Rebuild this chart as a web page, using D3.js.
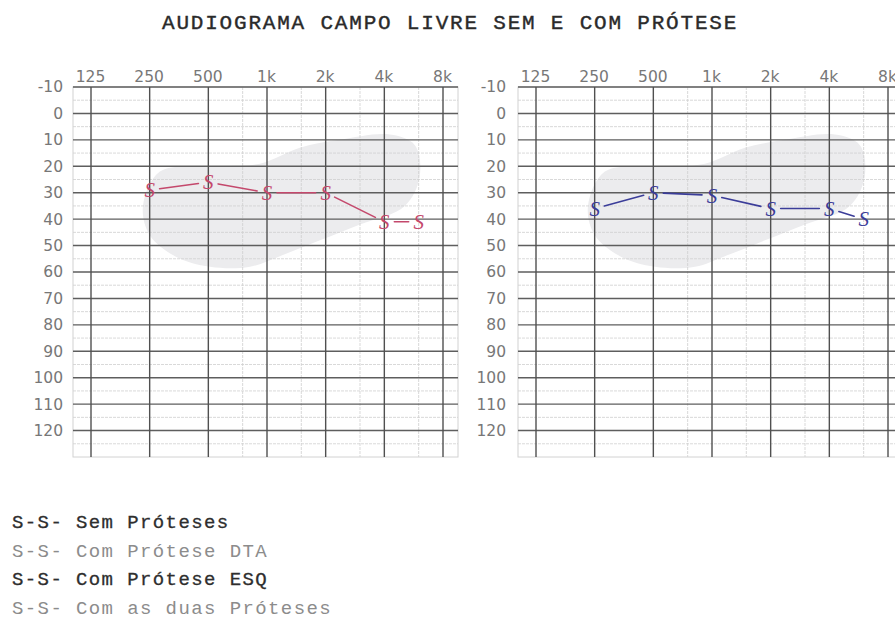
<!DOCTYPE html>
<html><head><meta charset="utf-8">
<script src="https://cdn.jsdelivr.net/npm/d3@7"></script>
<style>body{margin:0;background:#fff;overflow:hidden}</style>
</head><body><svg id="c" width="895" height="638"></svg>
<script>
const titleText = "AUDIOGRAMA CAMPO LIVRE SEM E COM PRÓTESE";
const freqs = [125, 250, 500, 1000, 2000, 4000, 8000];
const freqLabels = ["125", "250", "500", "1k", "2k", "4k", "8k"];
const midFreqs = [750, 1500, 3000, 6000];
const dbTicks = [-10, 0, 10, 20, 30, 40, 50, 60, 70, 80, 90, 100, 110, 120];
const dbLabels = ["-10", "0", "10", "20", "30", "40", "50", "60", "70", "80", "90", "100", "110", "120"];
const dbMinor = [-5, 5, 15, 25, 35, 45, 55, 65, 75, 85, 95, 105, 115, 125];
const testFreqs = [250, 500, 1000, 2000, 4000, 6000];
const leftValues = [29, 26, 30, 30, 41, 41];
const rightValues = [36, 30, 31, 36, 36, 40];
const bananaFreq = [231, 282, 510, 920, 1475, 2360, 4270, 5740, 6070, 5100, 3000, 1870, 1165, 818, 510, 337, 250];
const bananaDb   = [35, 22, 20, 19, 13, 10, 8, 12, 24, 35, 42, 48, 54, 58, 58, 54, 46];
const legendItems = ["S-S- Sem Próteses", "S-S- Com Prótese DTA", "S-S- Com Prótese ESQ", "S-S- Com as duas Próteses"];
const legendColors = ["#2e2e2e", "#8c8c8c", "#2e2e2e", "#8c8c8c"];

const svg = d3.select("#c");
svg.append("rect").attr("width", 895).attr("height", 638).attr("fill", "#fff");

svg.append("text").attr("x", 162).attr("y", 29)
  .attr("font-family", "Liberation Mono, monospace").attr("font-size", 21)
  .attr("letter-spacing", 1.8).attr("fill", "#2a2a2a")
  .attr("stroke", "#2a2a2a").attr("stroke-width", 0.4).text(titleText);

const y = d3.scaleLinear().domain([-10, 130]).range([87, 457]);

const panels = [
  {x0: 91, values: leftValues, color: "#c4486c", labelX: 63},
  {x0: 536, values: rightValues, color: "#3b3d99", labelX: 506}
];

panels.forEach(p => {
  const x = d3.scaleLog().base(2).domain([125, 8000]).range([p.x0, p.x0 + 352]);
  const g = svg.append("g");
  const fl = p.x0 - 18, fr = p.x0 + 367;

  // speech banana
  const pts = bananaFreq.map((f, i) => [x(f), y(bananaDb[i])]);
  g.append("path").attr("d", d3.line().curve(d3.curveCatmullRomClosed.alpha(0.5))(pts))
    .attr("fill", "#ececee").attr("stroke", "none");

  // minor grid
  g.selectAll(".hm").data(dbMinor).join("line")
    .attr("x1", fl).attr("x2", fr).attr("y1", d => y(d)).attr("y2", d => y(d))
    .attr("stroke", "#cfcfcf").attr("stroke-width", 0.8).attr("stroke-dasharray", "3,1");
  g.selectAll(".vm").data(midFreqs).join("line")
    .attr("x1", d => x(d)).attr("x2", d => x(d)).attr("y1", y(-10)).attr("y2", y(130))
    .attr("stroke", "#cfcfcf").attr("stroke-width", 0.8).attr("stroke-dasharray", "3,1");

  // frame
  g.append("rect").attr("x", fl).attr("y", y(-10)).attr("width", fr - fl).attr("height", y(130) - y(-10))
    .attr("fill", "none").attr("stroke", "#d2d2d2").attr("stroke-width", 1);

  // major grid
  g.selectAll(".hM").data(dbTicks).join("line")
    .attr("x1", fl).attr("x2", fr).attr("y1", d => y(d)).attr("y2", d => y(d))
    .attr("stroke", "#5e5e5e").attr("stroke-width", 1.4);
  g.selectAll(".vM").data(freqs).join("line")
    .attr("x1", d => x(d)).attr("x2", d => x(d)).attr("y1", y(-10)).attr("y2", y(130))
    .attr("stroke", "#505050").attr("stroke-width", 1.4);

  // axes
  const ya = svg.append("g").attr("transform", `translate(${p.labelX},0)`)
    .call(d3.axisLeft(y).tickValues(dbTicks).tickFormat((d, i) => dbLabels[i]).tickSize(0).tickPadding(0));
  ya.select(".domain").remove();
  ya.selectAll("text").attr("font-family", "DejaVu Sans, Verdana, sans-serif").attr("font-size", 15.5).attr("fill", "#777");

  const xa = svg.append("g").attr("transform", `translate(-1,82)`)
    .call(d3.axisTop(x).tickValues(freqs).tickFormat((d, i) => freqLabels[i]).tickSize(0).tickPadding(0));
  xa.select(".domain").remove();
  xa.selectAll("text").attr("font-family", "DejaVu Sans, Verdana, sans-serif").attr("font-size", 15.5).attr("fill", "#777");

  // series
  const sp = testFreqs.map((f, i) => [x(f), y(p.values[i])]);
  const gap = 10;
  for (let i = 0; i < sp.length - 1; i++) {
    const [ax, ay] = sp[i], [bx, by] = sp[i + 1];
    const dx = bx - ax, dy = by - ay, L = Math.hypot(dx, dy);
    const ux = dx / L, uy = dy / L;
    g.append("line")
      .attr("x1", ax + ux * gap).attr("y1", ay + uy * gap)
      .attr("x2", bx - ux * gap).attr("y2", by - uy * gap)
      .attr("stroke", p.color).attr("stroke-width", 1.6).attr("stroke-linecap", "round");
  }
  g.selectAll(".s").data(sp).join("text")
    .attr("x", d => d[0]).attr("y", d => d[1]).attr("dy", "0.35em")
    .attr("text-anchor", "middle").attr("font-family", "Liberation Serif, serif")
    .attr("font-style", "italic").attr("font-size", 21).attr("fill", p.color).text("S");
});

// legend
svg.selectAll(".lg").data(legendItems).join("text")
  .attr("x", 12).attr("y", (d, i) => 528 + i * 28.7)
  .attr("font-family", "Liberation Mono, monospace").attr("font-size", 19)
  .attr("letter-spacing", 1.4)
  .attr("fill", (d, i) => legendColors[i])
  .attr("stroke", (d, i) => i % 2 === 0 ? legendColors[i] : "none")
  .attr("stroke-width", 0.3)
  .text(d => d);
</script></body></html>
